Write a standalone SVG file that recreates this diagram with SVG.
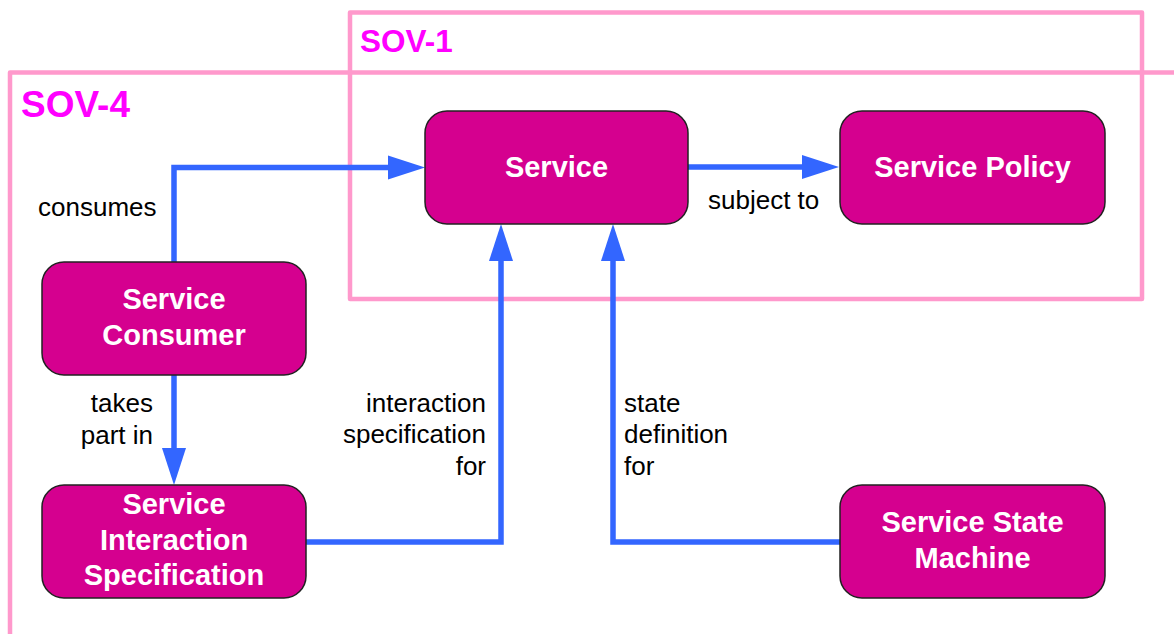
<svg xmlns="http://www.w3.org/2000/svg" width="1174" height="634" viewBox="0 0 1174 634">
<style>
.frame{fill:none;stroke:#ff99cc;stroke-width:4.5;stroke-linejoin:round}
.flabel{font-family:"Liberation Sans",Arial,sans-serif;font-weight:bold;fill:#ff00ff}
.node{fill:#d5008f;stroke:#222;stroke-width:1.5}
.ntext{font-family:"Liberation Sans",Arial,sans-serif;font-weight:bold;font-size:29px;fill:#fff;text-anchor:middle}
.conn{fill:none;stroke:#3366ff;stroke-width:5.5;stroke-linecap:round;stroke-linejoin:miter;marker-end:url(#arrow)}
.lbl{font-family:"Liberation Sans",Arial,sans-serif;font-size:26px;fill:#000}
</style>
<defs>
<marker id="arrow" markerUnits="userSpaceOnUse" markerWidth="38" markerHeight="24" refX="0" refY="12" orient="auto" overflow="visible">
<path d="M0,0 L37,12 L0,24 z" fill="#3366ff"/>
</marker>
</defs>
<rect width="1174" height="634" fill="#fff"/>
<g id="frames">
<rect class="frame" x="350" y="12.5" width="792" height="286.5"/>
<path class="frame" d="M1180,72.5 L10,72.5 L10,640"/>
<text class="flabel" x="360" y="52" font-size="31.5">SOV-1</text>
<text class="flabel" x="21" y="117" font-size="37">SOV-4</text>
</g>
<g id="connectors">
<path class="conn" d="M174,262 L174,167.5 L388,167.5"/>
<path class="conn" d="M688,167 L802,167"/>
<path class="conn" d="M174,375 L174,448"/>
<path class="conn" d="M306,542 L501,542 L501,261"/>
<path class="conn" d="M840,542 L613,542 L613,261"/>
<text class="lbl" x="38" y="216">consumes</text>
<text class="lbl" x="708" y="209">subject to</text>
<text class="lbl" x="153" y="412" text-anchor="end">takes</text>
<text class="lbl" x="153" y="444" text-anchor="end">part in</text>
<text class="lbl" x="486" y="412" text-anchor="end">interaction</text>
<text class="lbl" x="486" y="443" text-anchor="end">specification</text>
<text class="lbl" x="486" y="475" text-anchor="end">for</text>
<text class="lbl" x="624" y="412">state</text>
<text class="lbl" x="624" y="443">definition</text>
<text class="lbl" x="624" y="475">for</text>
</g>
<g id="service">
<rect class="node" x="425" y="111" width="263" height="113" rx="22"/>
<text class="ntext" x="556.5" y="177">Service</text>
</g>
<g id="service-policy">
<rect class="node" x="840" y="111" width="265" height="113" rx="22"/>
<text class="ntext" x="972.5" y="177">Service Policy</text>
</g>
<g id="service-consumer">
<rect class="node" x="42" y="262" width="264" height="113" rx="22"/>
<text class="ntext" x="174" y="309">Service</text>
<text class="ntext" x="174" y="345">Consumer</text>
</g>
<g id="service-interaction-specification">
<rect class="node" x="42" y="485" width="264" height="113" rx="22"/>
<text class="ntext" x="174" y="514">Service</text>
<text class="ntext" x="174" y="550">Interaction</text>
<text class="ntext" x="174" y="585">Specification</text>
</g>
<g id="service-state-machine">
<rect class="node" x="840" y="485" width="265" height="113" rx="22"/>
<text class="ntext" x="972.5" y="532">Service State</text>
<text class="ntext" x="972.5" y="568">Machine</text>
</g>
</svg>
